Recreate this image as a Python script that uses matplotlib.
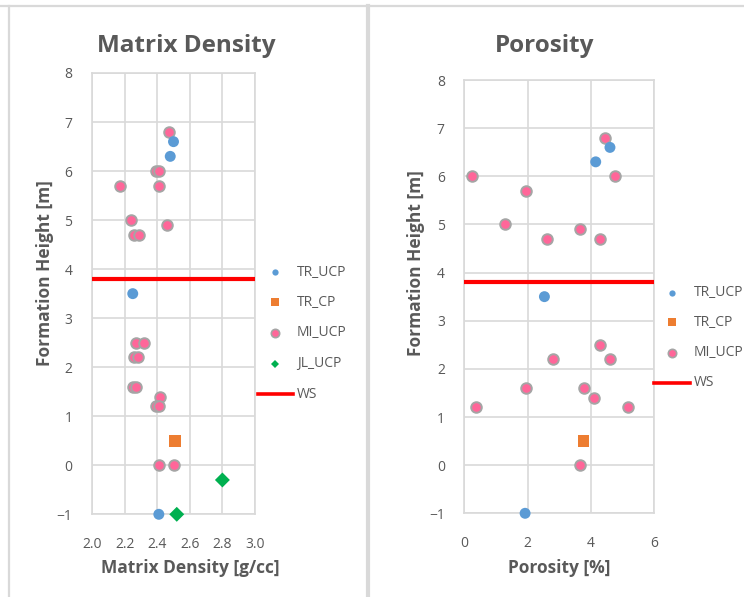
import matplotlib.pyplot as plt
from matplotlib.lines import Line2D

plt.rcParams['font.family'] = ['Open Sans', 'DejaVu Sans']

# ---- data (Formation Height vs property) ----
# Matrix density chart
md_tr_ucp_x = [2.50, 2.48, 2.25, 2.41]
md_tr_ucp_y = [6.6, 6.3, 3.5, -1.0]
md_tr_cp_x = [2.51]
md_tr_cp_y = [0.5]
md_mi_ucp_x = [2.47, 2.39, 2.41, 2.17, 2.41, 2.24, 2.46, 2.26, 2.29,
               2.27, 2.32, 2.26, 2.28, 2.25, 2.27, 2.42, 2.39, 2.41, 2.41, 2.50]
md_mi_ucp_y = [6.8, 6.0, 6.0, 5.7, 5.7, 5.0, 4.9, 4.7, 4.7,
               2.5, 2.5, 2.2, 2.2, 1.6, 1.6, 1.4, 1.2, 1.2, 0.0, 0.0]
md_jl_ucp_x = [2.80, 2.52]
md_jl_ucp_y = [-0.3, -1.0]

# Porosity chart
po_tr_ucp_x = [4.6, 4.15, 2.53, 1.92]
po_tr_ucp_y = [6.6, 6.3, 3.5, -1.0]
po_tr_cp_x = [3.76]
po_tr_cp_y = [0.5]
po_mi_ucp_x = [4.45, 0.23, 4.75, 1.95, 1.30, 3.65, 2.62, 4.30,
               4.27, 2.80, 4.60, 1.94, 3.78, 4.08, 0.38, 5.17, 3.64]
po_mi_ucp_y = [6.8, 6.0, 6.0, 5.7, 5.0, 4.9, 4.7, 4.7,
               2.5, 2.2, 2.2, 1.6, 1.6, 1.4, 1.2, 1.2, 0.0]

ws_height = 3.8

md_xticks = [2.0, 2.2, 2.4, 2.6, 2.8, 3.0]
po_xticks = [0, 2, 4, 6]
yticks = list(range(-1, 9))

BLUE = '#5B9BD5'
ORANGE = '#ED7D31'
PINK = '#FF6699'
PINK_EDGE = '#A5A5A5'
GREEN = '#00B050'
RED = '#FF0000'
GRID = '#D9D9D9'
TEXT = '#595959'

W, H = 744, 597
fig = plt.figure(figsize=(W / 100, H / 100), dpi=100)


def px_axes(x0, y0, x1, y1):
    return fig.add_axes([x0 / W, 1 - y1 / H, (x1 - x0) / W, (y1 - y0) / H])


def style_axes(ax, xticks, xfmt):
    ax.set_ylim(-1, 8)
    ax.set_xlim(xticks[0], xticks[-1])
    ax.set_xticks(xticks)
    ax.set_xticklabels([xfmt.format(t) for t in xticks])
    ax.set_yticks(yticks)
    ax.grid(True, color=GRID, linewidth=1.2)
    ax.set_axisbelow(True)
    for s in ax.spines.values():
        s.set_color(GRID)
        s.set_linewidth(1.2)
    ax.tick_params(length=0, labelsize=10, labelcolor=TEXT)
    ax.tick_params(axis='x', pad=16)
    ax.tick_params(axis='y', pad=14)


def draw_points(ax, tr_ucp, tr_cp, mi_ucp, jl_ucp=None):
    ax.scatter(*mi_ucp, s=58, color=PINK, edgecolors=PINK_EDGE, linewidths=1.4,
               zorder=3, clip_on=False)
    ax.scatter(*tr_ucp, s=62, color=BLUE, edgecolors='none', zorder=4, clip_on=False)
    ax.scatter(*tr_cp, s=70, marker='s', color=ORANGE, edgecolors='none', zorder=4,
               clip_on=False)
    if jl_ucp is not None:
        ax.scatter(*jl_ucp, s=58, marker='D', color=GREEN, edgecolors='none', zorder=4,
                   clip_on=False)
    ax.axhline(ws_height, color=RED, linewidth=3, zorder=5)


def legend(x_mark, x_line0, x_line1, x_text, rows, labels):
    for (y, lab) in zip(rows, labels):
        fy = 1 - y / H
        if lab == 'WS':
            fig.add_artist(Line2D([x_line0 / W, x_line1 / W], [fy, fy], color=RED, linewidth=2.6))
        else:
            kw = {
                'TR_UCP': dict(marker='o', color=BLUE, markersize=4.5, markeredgewidth=0),
                'TR_CP': dict(marker='s', color=ORANGE, markersize=6, markeredgewidth=0),
                'MI_UCP': dict(marker='o', color=PINK, markersize=6,
                               markeredgecolor=PINK_EDGE, markeredgewidth=1.2),
                'JL_UCP': dict(marker='D', color=GREEN, markersize=4.5, markeredgewidth=0),
            }[lab]
            fig.add_artist(Line2D([x_mark / W], [fy], linestyle='none', **kw))
        fig.text(x_text / W, fy, lab, fontsize=10, color=TEXT, va='center', ha='left')


# ---- left chart ----
ax1 = px_axes(92, 73, 255, 514.3)
style_axes(ax1, md_xticks, '{:.1f}')
draw_points(ax1, (md_tr_ucp_x, md_tr_ucp_y), (md_tr_cp_x, md_tr_cp_y),
            (md_mi_ucp_x, md_mi_ucp_y), (md_jl_ucp_x, md_jl_ucp_y))
fig.text(186 / W, 1 - 46 / H, 'Matrix Density', fontsize=17.5, fontweight='bold',
         color=TEXT, ha='center', va='center')
fig.text(190 / W, 1 - 568 / H, 'Matrix Density [g/cc]', fontsize=12.5, fontweight='bold',
         color=TEXT, ha='center', va='center')
fig.text(45 / W, 1 - 273 / H, 'Formation Height [m]', fontsize=12.5, fontweight='bold',
         color=TEXT, ha='center', va='center', rotation=90)
legend(275, 258, 293, 297, [272, 302, 333, 364, 394],
       ['TR_UCP', 'TR_CP', 'MI_UCP', 'JL_UCP', 'WS'])

# ---- right chart ----
ax2 = px_axes(464.3, 80, 654.3, 513.3)
style_axes(ax2, po_xticks, '{:d}')
draw_points(ax2, (po_tr_ucp_x, po_tr_ucp_y), (po_tr_cp_x, po_tr_cp_y),
            (po_mi_ucp_x, po_mi_ucp_y))
fig.text(545 / W, 1 - 46 / H, 'Porosity', fontsize=17.5, fontweight='bold',
         color=TEXT, ha='center', va='center')
fig.text(559 / W, 1 - 568 / H, 'Porosity [%]', fontsize=12.5, fontweight='bold',
         color=TEXT, ha='center', va='center')
fig.text(416 / W, 1 - 263 / H, 'Formation Height [m]', fontsize=12.5, fontweight='bold',
         color=TEXT, ha='center', va='center', rotation=90)
legend(672, 654, 690, 694, [293, 322, 353, 383],
       ['TR_UCP', 'TR_CP', 'MI_UCP', 'WS'])

# ---- chart frames ----
frame = '#D9D9D9'
fig.add_artist(Line2D([0, 1], [1 - 5.5 / H] * 2, color=frame, linewidth=1.6))
fig.add_artist(Line2D([9 / W] * 2, [0, 1 - 5.5 / H], color=frame, linewidth=1.6))
fig.add_artist(Line2D([368 / W] * 2, [0, 1 - 5.5 / H], color=frame, linewidth=3))

fig.savefig('out.png', dpi=100)
